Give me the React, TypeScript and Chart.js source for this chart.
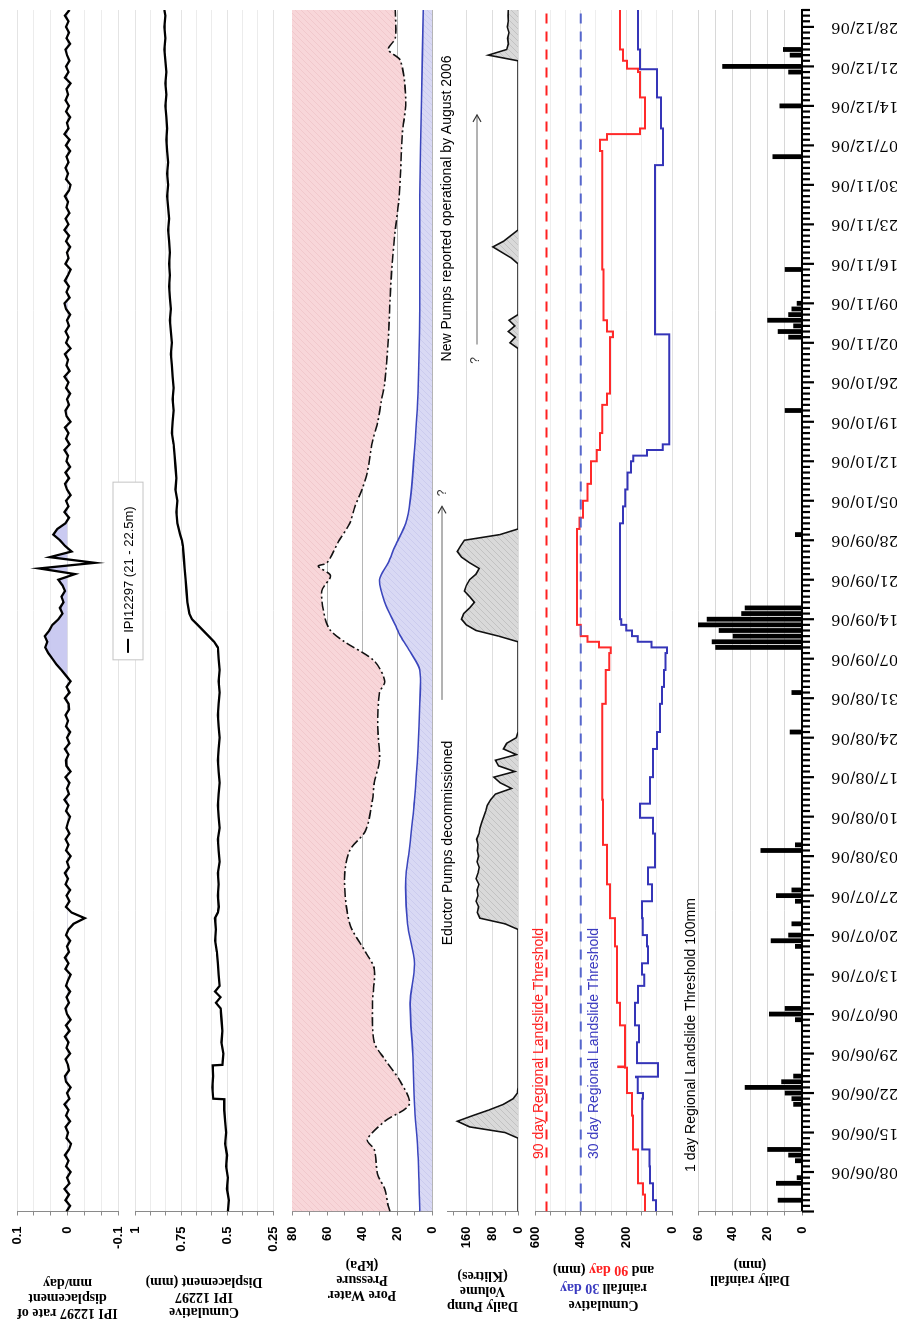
import React, { useEffect, useRef } from "react";
import { Chart, registerables } from "chart.js";

Chart.register(...registerables);

// ---------------- DATA ----------------
// time axis: days since 01/06/06
const dayMin = 0;
const dayMax = 213;
const dateTickLabels = [
  "08/06/06", "15/06/06", "22/06/06", "29/06/06", "06/07/06", "13/07/06", "20/07/06", "27/07/06",
  "03/08/06", "10/08/06", "17/08/06", "24/08/06", "31/08/06", "07/09/06", "14/09/06", "21/09/06",
  "28/09/06", "05/10/06", "12/10/06", "19/10/06", "26/10/06", "02/11/06", "09/11/06", "16/11/06",
  "23/11/06", "30/11/06", "07/12/06", "14/12/06", "21/12/06", "28/12/06",
];

// IPI 12297 rate of displacement, one reading per day from day 0 (x 0.001 mm/day)
const ipiRate = [
  2, -5, 4, -3, 6, -4, 1, -6, 3, -2,
  5, -3, -7, 2, -1, 4, -5, 3, -2, 6,
  -4, 1, -6, 3, 5, -3, -1, 4, -5, 2,
  -2, 5, -4, 3, -6, 1, 4, -3, 2, -5,
  3, -1, -6, 4, -2, 5, -3, 1, -5, 3,
  -2, -12, -34, -8, 3, -4, 2, -5, 4, -1,
  5, -3, 1, -6, 3, -2, 4, -4, 2, -1,
  -5, 3, -2, 6, -3, 1, -4, 4, -6, 2,
  3, -2, 5, -4, 1, -5, 3, -1, 4, -3,
  -2, 5, -4, 2, -6, 3, 12, 22, 30, 38,
  44, 40, 45, 36, 30, 18, 10, 15, 8, 12,
  5, 10, 18, -15, 56, -54, 35, -8, 5, 15,
  28, 20, 4, -3, 6, -2, 3, -6, 1, 5,
  -3, 4, -5, 2, -1, 6, -4, 3, -2, 5,
  -6, 2, 4, -3, 1, -5, 3, -2, 6, -4,
  2, -1, 5, -6, 3, -2, 4, -3, 1, -5,
  3, 6, -4, 2, -3, 5, -1, -6, 4, -2,
  1, -5, 3, -3, 6, -2, 4, -4, 2, -1,
  5, -3, -6, 3, -1, 4, -2, 2, -5, 3,
  -4, 6, -2, 1, -5, 3, -3, 4, -1, 2,
  -6, 5, -2, 3, -4, 1, 4, -5, 2, -3,
  3, -2, 5, -4,
];

// Cumulative displacement (mm)
const dispDays = [0,2,4,6,8,10,12,14,16,18,19.9,20,22,24,25.9,26,28,30,32,34,36,37,38,39,40,42,44,46,48,50,52,53,54,56,58,60,62,64,66,68,70,72,74,76,78,80,82,84,86,88,90,92,94,96,98,100,101,102,103,104,105,106,108,110,112,114,116,118,119,120,122,124,126,128,130,132,134,136,138,140,142,144,146,148,150,152,154,156,158,160,162,164,166,168,170,172,174,176,178,180,182,184,186,188,190,192,194,196,198,200,202,204,206,208,210,212,213];
const dispMm = [0.495,0.49,0.5,0.495,0.505,0.5,0.51,0.505,0.51,0.515,0.515,0.575,0.58,0.575,0.578,0.525,0.52,0.53,0.525,0.53,0.535,0.56,0.535,0.565,0.54,0.545,0.55,0.555,0.565,0.56,0.565,0.55,0.545,0.55,0.545,0.55,0.54,0.545,0.55,0.54,0.545,0.55,0.545,0.54,0.545,0.55,0.545,0.54,0.545,0.55,0.545,0.54,0.545,0.54,0.545,0.55,0.57,0.6,0.63,0.66,0.69,0.705,0.715,0.72,0.725,0.73,0.735,0.74,0.745,0.755,0.77,0.775,0.77,0.78,0.775,0.78,0.785,0.79,0.8,0.795,0.79,0.795,0.79,0.795,0.8,0.805,0.8,0.805,0.81,0.805,0.81,0.815,0.81,0.815,0.81,0.815,0.82,0.815,0.82,0.825,0.82,0.825,0.82,0.825,0.83,0.825,0.83,0.835,0.83,0.835,0.83,0.835,0.84,0.835,0.84,0.835,0.84];

// Pore water pressure (kPa)
const poreUpperDays = [0,1,4,6.5,11,12.7,16,19,23,27,30,37,43,46,51,59,64,67.5,73,76,80,86,92,94,97.6,101,103,105,110,112.7,114.4,115,119,122,125,128,131,136.5,140,143.6,147,154.5,161.5,167,174,179,184,191,197,204,206,208,213];
const poreUpperKpa = [24,25,27,31,33,37,27,13,18,27,33,34,33,38,47,50,47,38,34,33,30,31,30,27,33,50,58,61,63,58,65,60,53,47,44,40,37,34,31,29,27,25,24,23,21,19,18,17,15,18,25,21,21];
const poreLowerDays = [0,10,19,28,37,44,51,59,64,73,82,90,96,99,102,104,108,112,115,118,122,126,135,145,160,180,197,213];
const poreLowerKpa = [7,8,10,11,12.5,10,14,15,13,10,8,7,7,12,18,21,27,30,25,21,15,12.5,10,8,7,7,6,5];

// Daily pump volume (Klitres)
const pumpDays = [
  0,13,14,15,16,17,18,19,20,21,22,
  50,51,52,53,54,55,56,57,58,59,60,61,62,63,64,65,66,67,68,69,70,71,72,73,74,75,76,77,78,79,80,81,82,83,84,85,
  101,102,103,104,105,106,107,108,109,110,111,112,113,114,115,116,117,118,119,120,121,
  153,154,155,156,157,158,159,
  168,169,171,172,174,
  204,205,206,207,208,209,210,211,212,213,
];
const pumpKl = [
  0,0,40,150,188,140,90,45,15,2,0,
  0,40,118,126,122,130,124,127,121,130,124,120,127,122,126,124,128,121,118,112,106,100,95,85,70,20,55,75,10,60,70,5,45,35,5,0,
  0,60,130,160,175,168,150,135,150,166,160,150,130,120,150,175,188,178,166,56,0,
  0,25,8,30,10,28,0,
  0,20,78,45,0,
  0,92,35,30,32,28,33,30,31,30,
];

// Cumulative rainfall (mm)
const cum30Days = [0,2,5,8,11,20,21,23.8,23.9,26.2,26.3,30,33,37,40,42,44,47,49,52,55,58,61,64,67,69.7,69.8,72.2,72.3,77,82,85,90,93,96,99,100,101,102,103,104,105,120,122,125,128,131,133,134,135,136,155,155.5,185,185.5,191.5,192,197,197.5,202,202.5,206,213];
const cum30Mm = [70,83,96,98,130,127,150,158,61,61,153,145,162,149,122,131,105,110,128,131,88,105,74,74,83,83,140,140,96,83,66,53,44,35,28,22,90,150,175,200,222,228,228,215,205,195,180,170,110,40,12,12,74,74,39,39,48,48,66,66,140,149,149];
const cum90Days = [0,3,5,11,17,21,25.5,25.6,25.7,33,37,47,52,58,65,73,90,96,99,100,101,102,104,119,121,123,126,129,133,135,138,143,145,155,156,158,167,188,190,191,192,197,197.5,202,202.6,204,206,213];
const cum90Mm = [118,127,149,171,175,197,206,235,206,228,241,250,272,285,302,306,290,275,268,320,370,400,416,416,405,390,370,355,330,315,306,285,272,258,285,300,306,315,285,140,118,118,140,149,197,215,228,228];
const threshold90 = 550;
const threshold30 = 400;

// Daily rainfall (mm)
const rainDays = [2,5,6,9,10,11,19,20,21,22,23,24,34,35,36,47,48,49,51,55,56,57,64,65,85,92,100,101,102,103,104,105,106,107,120,142,155,156,157,158,159,160,161,167,187,196,202,203,205,206];
const rainMm = [14,15,3,4,8,20,5,6,10,33,12,5,4,19,10,4,18,8,6,4,15,6,24,4,7,6,50,52,40,48,62,55,35,33,4,10,8,14,5,20,8,6,3,10,17,13,8,46,7,11];

// ---------------- LAYOUT (unrotated frame: time left->right) ----------------
const W = 1323; // becomes page height after rotation
const H = 897;  // becomes page width after rotation
const AXIS_W = 111.5;
const RIGHT_PAD = 10;
const PANELS = {
  p1: [17, 118], p2: [135, 273], p3: [292, 432], p4: [447, 518], p5: [535, 672], p6: [698, 802],
};
// annotation anchors (in days along the time axis)
const LEGEND_SPAN = [97.8, 129.3];
const EDUCTOR_TEXT_AT = 47.2;
const EDUCTOR_ARROW = [90.7, 125];
const NEWPUMP_TEXT_AT = 150.7;
const NEWPUMP_ARROW = [153.7, 194.4];
const THRESH_TEXT_AT = 9.3;
const RAIN_TEXT_AT = 7;

const SANS = '"Liberation Sans", Arial, sans-serif';
const SERIF = '"Liberation Serif", "Times New Roman", serif';

function pts(xs: number[], ys: number[], k = 1) {
  const n = Math.min(xs.length, ys.length);
  const out: { x: number; y: number }[] = [];
  for (let i = 0; i < n; i++) out.push({ x: xs[i], y: ys[i] * k });
  return out;
}

function hatch(base: string, line: string) {
  const c = document.createElement("canvas");
  c.width = 6; c.height = 6;
  const g = c.getContext("2d")!;
  g.fillStyle = base; g.fillRect(0, 0, 6, 6);
  g.strokeStyle = line; g.lineWidth = 1;
  g.beginPath(); g.moveTo(0, 6); g.lineTo(6, 0); g.stroke();
  return g.createPattern(c, "repeat")!;
}

function near(v: number, m: number) {
  const r = v / m;
  return Math.abs(r - Math.round(r)) < 1e-6;
}

function yAxis(o: any) {
  return {
    type: "linear",
    position: "left",
    min: o.min, max: o.max,
    z: o.z || 0,
    afterFit: (s: any) => { s.width = AXIS_W; s.paddingTop = 0; s.paddingBottom = 0; },
    ticks: {
      stepSize: o.step, autoSkip: false, includeBounds: false,
      padding: 11, color: "#000",
      font: { family: SANS, size: 13, weight: "bold" },
      callback: (v: number) => (near(v, o.major) ? o.fmt(v) : ""),
    },
    grid: {
      color: (c: any) => (c.tick && near(c.tick.value, o.major) ? o.gridMajor : o.gridMinor),
      lineWidth: 1, drawTicks: true, tickLength: 4, tickColor: "#8a8a8a",
    },
    border: { display: true, color: "#8a8a8a", width: 1 },
    title: {
      display: !!o.title, text: o.title || "", color: "#000",
      font: { family: SERIF, size: 14, weight: "bold", lineHeight: 1.08 },
      padding: { top: o.titlePad || 0, bottom: 0 },
    },
  };
}

const xHidden = { type: "linear", min: dayMin, max: dayMax, display: false, offset: false };
const xVisible = {
  type: "linear", min: dayMin, max: dayMax, offset: false,
  afterFit: (s: any) => { s.height = H - PANELS.p6[1]; s.paddingLeft = 0; s.paddingRight = 0; },
  grid: { display: false, offset: false },
  border: { display: true, color: "#000", width: 2 },
  ticks: {
    stepSize: 1, autoSkip: false, minRotation: 90, maxRotation: 90, padding: 21, color: "#000",
    font: { family: '"DejaVu Serif", serif', size: 15 },
    callback: (v: number) => (v % 7 === 0 && v >= 7 ? dateTickLabels[v / 7 - 1] || "" : ""),
  },
};

function baseOptions(panel: number[], yScale: any, showX: boolean) {
  return {
    responsive: false,
    animation: false,
    devicePixelRatio: 1,
    events: [],
    layout: { padding: { top: panel[0], bottom: showX ? 0 : H - panel[1], left: 0, right: RIGHT_PAD } },
    plugins: { legend: { display: false }, tooltip: { enabled: false } },
    scales: { x: showX ? xVisible : xHidden, y: yScale },
  };
}

const dateTicksPlugin = {
  id: "dateTicks",
  afterDraw(chart: any) {
    const ctx = chart.ctx;
    const xs = chart.scales.x;
    const y0 = chart.chartArea.bottom;
    ctx.save();
    ctx.strokeStyle = "#000";
    ctx.lineWidth = 2.2;
    for (let d = dayMin; d <= dayMax; d++) {
      const x = xs.getPixelForValue(d);
      const len = d % 7 === 0 ? 12 : 8;
      ctx.beginPath(); ctx.moveTo(x, y0); ctx.lineTo(x, y0 + len); ctx.stroke();
    }
    ctx.restore();
  },
};

function makeAnnotations() {
  return {
    id: "annot",
    afterDraw(chart: any) {
      const ctx = chart.ctx;
      const xs = chart.scales.x;
      const X = (d: number) => xs.getPixelForValue(d);
      ctx.save();
      // legend box (IPI)
      const bx0 = X(LEGEND_SPAN[0]), bx1 = X(LEGEND_SPAN[1]), by0 = 113, by1 = 143;
      ctx.fillStyle = "#fff"; ctx.fillRect(bx0, by0, bx1 - bx0, by1 - by0);
      ctx.strokeStyle = "#c4c4c4"; ctx.lineWidth = 1; ctx.strokeRect(bx0, by0, bx1 - bx0, by1 - by0);
      const my = (by0 + by1) / 2;
      ctx.strokeStyle = "#000"; ctx.lineWidth = 2;
      ctx.beginPath(); ctx.moveTo(bx0 + 7, my); ctx.lineTo(bx0 + 21, my); ctx.stroke();
      ctx.fillStyle = "#000"; ctx.font = `13px ${SANS}`; ctx.textBaseline = "middle"; ctx.textAlign = "left";
      ctx.fillText("IPI12297 (21 - 22.5m)", bx0 + 27, my + 1);

      // pump annotations
      ctx.font = `14px ${SANS}`;
      ctx.fillText("Eductor Pumps decommissioned", X(EDUCTOR_TEXT_AT), 448);
      ctx.fillText("New Pumps reported operational by August 2006", X(NEWPUMP_TEXT_AT), 447);
      const arrow = (d0: number, d1: number, y: number) => {
        const a = X(d0), b = X(d1);
        ctx.strokeStyle = "#666"; ctx.lineWidth = 1;
        ctx.beginPath(); ctx.moveTo(a, y); ctx.lineTo(b, y); ctx.stroke();
        ctx.strokeStyle = "#333"; ctx.lineWidth = 1.2;
        ctx.beginPath(); ctx.moveTo(b - 7, y - 4); ctx.lineTo(b, y); ctx.lineTo(b - 7, y + 4); ctx.stroke();
      };
      arrow(EDUCTOR_ARROW[0], EDUCTOR_ARROW[1], 442);
      ctx.font = `12px ${SANS}`; ctx.fillStyle = "#333";
      ctx.fillText("?", X(EDUCTOR_ARROW[1] + 1.8), 443);
      arrow(NEWPUMP_ARROW[0], NEWPUMP_ARROW[1], 477);
      ctx.fillText("?", X(NEWPUMP_TEXT_AT - 0.4), 476);

      // threshold annotations
      ctx.font = `14px ${SANS}`;
      ctx.fillStyle = "#ff2020"; ctx.fillText("90 day Regional Landslide Threshold", X(THRESH_TEXT_AT), 539);
      ctx.fillStyle = "#3a3ac0"; ctx.fillText("30 day Regional Landslide Threshold", X(THRESH_TEXT_AT), 594);
      ctx.fillStyle = "#000"; ctx.fillText("1 day Regional Landslide Threshold 100mm", X(RAIN_TEXT_AT), 691);

      // coloured title of cumulative rainfall panel
      const cy = (PANELS.p5[0] + PANELS.p5[1]) / 2;
      const lines = [
        [["Cumulative", "#000"]],
        [["rainfall ", "#000"], ["30 day", "#3a3ac0"]],
        [["and ", "#000"], ["90 day", "#ff2020"], [" (mm)", "#000"]],
      ];
      const lx = [18, 35.5, 53];
      ctx.font = `bold 14px ${SERIF}`;
      ctx.textBaseline = "middle"; ctx.textAlign = "left";
      lines.forEach((segs: any, i: number) => {
        const total = segs.reduce((s: number, g: any) => s + ctx.measureText(g[0]).width, 0);
        ctx.save();
        ctx.translate(lx[i], cy);
        ctx.rotate(-Math.PI / 2);
        let x = -total / 2;
        segs.forEach((g: any) => { ctx.fillStyle = g[1]; ctx.fillText(g[0], x, 0); x += ctx.measureText(g[0]).width; });
        ctx.restore();
      });
      ctx.restore();
    },
  };
}

export default function App() {
  const canvases = useRef<(HTMLCanvasElement | null)[]>([]);

  useEffect(() => {
    const cs = canvases.current;
    const charts: Chart[] = [];
    const pink = hatch("#f8d6d9", "#f1c8cc");
    const lav = hatch("#d9d9f4", "#cbcbee");
    const grey = hatch("#d9d9d9", "#c2c2c2");

    // P1: IPI rate
    charts.push(new Chart(cs[0]!, {
      type: "line",
      data: {
        datasets: [{
          data: ipiRate.map((v, i) => ({ x: dayMin + i, y: v / 1000 })),
          borderColor: "#000", borderWidth: 2.3, pointRadius: 0, tension: 0,
          fill: { target: "origin", above: "rgba(196,196,240,0.9)", below: "rgba(0,0,0,0)" },
        }],
      },
      options: baseOptions(PANELS.p1, yAxis({
        min: -0.1, max: 0.1, step: 0.1 / 3, major: 0.1,
        fmt: (v: number) => (Math.abs(v) < 1e-9 ? "0" : String(Math.round(v * 10) / 10)),
        gridMajor: "#e4e4e4", gridMinor: "#ececec",
        title: ["IPI 12297 rate of", "displacement", "mm/day"], titlePad: 3,
      }), false) as any,
    }));

    // P2: cumulative displacement
    charts.push(new Chart(cs[1]!, {
      type: "line",
      data: { datasets: [{ data: pts(dispDays, dispMm), borderColor: "#000", borderWidth: 2.3, pointRadius: 0, tension: 0 }] },
      options: baseOptions(PANELS.p2, yAxis({
        min: 0.25, max: 1, step: 0.25 / 3, major: 0.25,
        fmt: (v: number) => String(Math.round(v * 100) / 100),
        gridMajor: "#e4e4e4", gridMinor: "#ececec",
        title: ["Cumulative", "IPI 12297", "Displacement (mm)"], titlePad: 4,
      }), false) as any,
    }));

    // P3: pore water pressure
    charts.push(new Chart(cs[2]!, {
      type: "line",
      data: {
        datasets: [
          { data: pts(poreUpperDays, poreUpperKpa), borderColor: "#111", borderWidth: 1.6, borderDash: [9, 3, 2, 3], pointRadius: 0, tension: 0.3, fill: "end", backgroundColor: pink },
          { data: pts(poreLowerDays, poreLowerKpa), borderColor: "#3b46bd", borderWidth: 1.6, pointRadius: 0, tension: 0.3, fill: "origin", backgroundColor: lav },
        ],
      },
      options: baseOptions(PANELS.p3, yAxis({
        min: 0, max: 80, step: 10, major: 20, z: 1,
        fmt: (v: number) => String(v),
        gridMajor: "rgba(120,120,120,0.55)", gridMinor: "rgba(0,0,0,0)",
        title: ["Pore Water", "Pressure", "(kPa)"], titlePad: 21,
      }), false) as any,
    }));

    // P4: pump volume
    charts.push(new Chart(cs[3]!, {
      type: "line",
      data: { datasets: [{ data: pts(pumpDays, pumpKl), borderColor: "#111", borderWidth: 1.6, pointRadius: 0, tension: 0, fill: "origin", backgroundColor: grey }] },
      options: baseOptions(PANELS.p4, yAxis({
        min: 0, max: 220, step: 40, major: 80,
        fmt: (v: number) => String(v),
        gridMajor: "#dedede", gridMinor: "rgba(0,0,0,0)",
        title: ["Daily Pump", "Volume", "(Klitres)"], titlePad: 10,
      }), false) as any,
    }));

    // P5: cumulative rainfall
    charts.push(new Chart(cs[4]!, {
      type: "line",
      data: {
        datasets: [
          { data: [{ x: dayMin, y: threshold90 }, { x: dayMax, y: threshold90 }], borderColor: "#ff2020", borderWidth: 2, borderDash: [10, 8], pointRadius: 0 },
          { data: [{ x: dayMin, y: threshold30 }, { x: dayMax, y: threshold30 }], borderColor: "#5566cc", borderWidth: 2, borderDash: [10, 8], pointRadius: 0 },
          { data: pts(cum90Days, cum90Mm), borderColor: "#ff2a2a", borderWidth: 2, pointRadius: 0, stepped: true },
          { data: pts(cum30Days, cum30Mm), borderColor: "#3535b8", borderWidth: 2, pointRadius: 0, stepped: true },
        ],
      },
      options: baseOptions(PANELS.p5, yAxis({
        min: 0, max: 600, step: 200 / 3, major: 200,
        fmt: (v: number) => String(Math.round(v)),
        gridMajor: "#e2e2e2", gridMinor: "#eeeeee",
        title: null,
      }), false) as any,
    }));

    // P6: daily rainfall (bars) + date axis + annotations
    charts.push(new Chart(cs[5]!, {
      type: "bar",
      data: { datasets: [{ data: pts(rainDays, rainMm), backgroundColor: "#000", barPercentage: 0.85, categoryPercentage: 1 }] },
      options: baseOptions(PANELS.p6, yAxis({
        min: 0, max: 60, step: 10, major: 20,
        fmt: (v: number) => String(v),
        gridMajor: "#d8d8d8", gridMinor: "#d8d8d8",
        title: ["Daily rainfall", "(mm)"], titlePad: 36,
      }), true) as any,
      plugins: [dateTicksPlugin, makeAnnotations()],
    }));

    return () => { charts.forEach((c) => c.destroy()); };
  }, []);

  return (
    <div style={{ position: "fixed", left: 0, top: 0, width: H, height: W, overflow: "hidden", background: "#fff" }}>
      <div
        style={{
          position: "absolute", left: 0, top: 0, width: W, height: H,
          transformOrigin: "0 0", transform: `translateY(${W}px) rotate(-90deg)`,
        }}
      >
        {[0, 1, 2, 3, 4, 5].map((i) => (
          <canvas
            key={i}
            ref={(el) => { canvases.current[i] = el; }}
            width={W}
            height={H}
            style={{ position: "absolute", left: 0, top: 0, width: W, height: H }}
          />
        ))}
      </div>
    </div>
  );
}
